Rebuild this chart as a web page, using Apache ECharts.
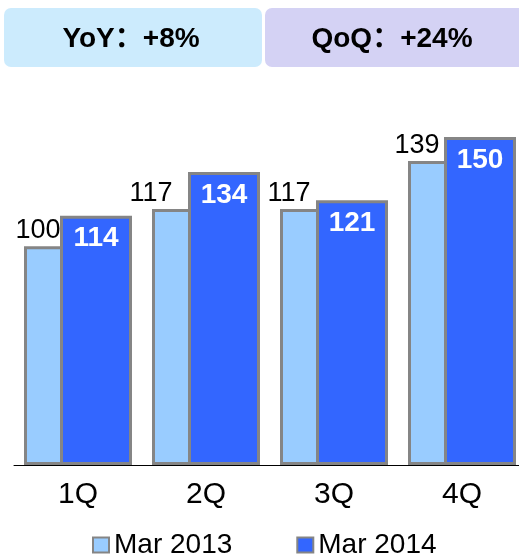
<!DOCTYPE html>
<html>
<head>
<meta charset="utf-8">
<script src="https://cdn.jsdelivr.net/npm/echarts@6/dist/echarts.min.js"></script>
<style>
  html, body { margin: 0; padding: 0; background: #fff; }
  #chart { width: 519px; height: 556px; }
</style>
</head>
<body>
<div id="chart"></div>
<script>
// Quarterly figures, two fiscal years side by side
const quarters = ['1Q', '2Q', '3Q', '4Q'];
const seriesNames = ['Mar 2013', 'Mar 2014'];
const values2013 = [100, 117, 117, 139];
const values2014 = [114, 134, 121, 150];
const yoyText = 'YoY：+8%';
const qoqText = 'QoQ：+24%';

// horizontal nudges for the prior-year labels so they sit beside the overlapping bar
const priorLabelShift = [-22, -37, -27, -27];

const FONT = '"Liberation Sans", Arial, "Noto Sans CJK SC", sans-serif';
const BORDER = '#858585';

const chart = echarts.init(document.getElementById('chart'), null, { renderer: 'canvas' });

chart.setOption({
  backgroundColor: '#ffffff',
  animation: false,
  textStyle: { fontFamily: FONT },
  graphic: [
    {
      type: 'rect',
      shape: { x: 4, y: 8, width: 258, height: 59, r: 7 },
      style: { fill: '#CCEBFD' }
    },
    {
      type: 'text',
      x: 131, y: 39,
      style: {
        text: yoyText, fill: '#000', font: 'bold 28px ' + FONT,
        align: 'center', verticalAlign: 'middle'
      }
    },
    {
      type: 'rect',
      shape: { x: 265, y: 8, width: 262, height: 59, r: 7 },
      style: { fill: '#D4D2F4' }
    },
    {
      type: 'text',
      x: 392, y: 39,
      style: {
        text: qoqText, fill: '#000', font: 'bold 28px ' + FONT,
        align: 'center', verticalAlign: 'middle'
      }
    }
  ],
  legend: {
    data: seriesNames,
    left: 92,
    top: 531,
    padding: 0,
    icon: 'rect',
    itemWidth: 16,
    itemHeight: 15,
    itemGap: 64,
    itemStyle: { borderColor: BORDER, borderWidth: 2 },
    textStyle: { fontSize: 28, color: '#000', fontFamily: FONT }
  },
  grid: {
    left: 14, width: 512, top: 115, bottom: 91,
    containLabel: false, outerBoundsMode: 'none'
  },
  xAxis: {
    type: 'category',
    data: quarters,
    axisTick: { show: false },
    axisLine: { lineStyle: { color: '#000', width: 1 } },
    axisLabel: { fontSize: 30, color: '#000', margin: 15, fontFamily: FONT }
  },
  yAxis: {
    type: 'value',
    min: 0,
    max: 160,
    show: false,
    splitLine: { show: false }
  },
  series: [
    {
      name: seriesNames[0],
      type: 'bar',
      barWidth: 72,
      barGap: '-50%',
      data: values2013.map((v, i) => ({
        value: v,
        label: { offset: [priorLabelShift[i], 0] }
      })),
      itemStyle: { color: '#99CCFF', borderColor: BORDER, borderWidth: 3 },
      label: {
        show: true,
        position: 'top',
        distance: 2,
        fontSize: 27,
        color: '#000',
        fontFamily: FONT
      }
    },
    {
      name: seriesNames[1],
      type: 'bar',
      barWidth: 72,
      data: values2014,
      itemStyle: { color: '#3366FF', borderColor: BORDER, borderWidth: 3 },
      label: {
        show: true,
        position: 'insideTop',
        distance: 9,
        fontSize: 28,
        fontWeight: 'bold',
        color: '#fff',
        fontFamily: FONT
      }
    }
  ]
});
</script>
</body>
</html>
